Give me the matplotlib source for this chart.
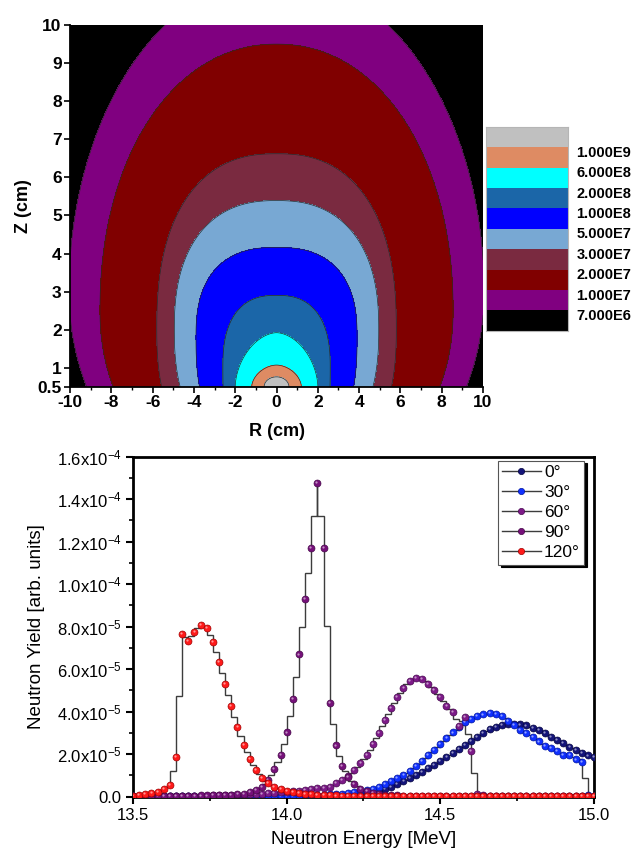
import numpy as np
import matplotlib
matplotlib.use('Agg')
import matplotlib.pyplot as plt
from matplotlib import transforms
from matplotlib.lines import Line2D

plt.rcParams['font.family'] = ['Liberation Sans', 'DejaVu Sans']
plt.rcParams['mathtext.fontset'] = 'custom'
plt.rcParams['mathtext.rm'] = 'Liberation Sans'
plt.rcParams['mathtext.it'] = 'Liberation Sans:italic'
plt.rcParams['mathtext.bf'] = 'Liberation Sans:bold'

# ---------------- flux map (top) ----------------
# legend, top to bottom
legend_labels = ['1.000E9', '6.000E8', '2.000E8', '1.000E8', '5.000E7',
                 '3.000E7', '2.000E7', '1.000E7', '7.000E6']
legend_colors = ['#c0c0c0', '#de8b63', '#00ffff', '#1b66a8', '#0000ff',
                 '#78a8d3', '#7a2a40', '#800000', '#800080', '#000000']

# iso-flux boundaries, outermost first
half_width = [10.05, 8.55, 5.8, 4.95, 3.9, 2.6, 2.0, 1.2, 0.6]   # max |R|
top_z = [11.3, 9.5, 6.62, 5.39, 4.16, 2.9, 1.92, 1.07, 0.76]      # Z at R=0
z_mid = [3.0, 2.5, 2.0, 2.0, 1.8, 1.0, 0.5, 0.5, 0.5]
z_low = [6.2, 4.9, 4.0, 3.5, 3.2, 3.0, 1.0, 1.0, 1.0]
shape_n = [2.0, 2.1, 2.4, 2.4, 2.5, 2.5, 1.8, 1.8, 2.0]
inside_colors = legend_colors[-2::-1]

# ---------------- neutron spectra (bottom) ----------------
energy = np.round(np.arange(13.5, 15.0001, 0.02), 2)

deg0 = [0.02, 0.02, 0.02, 0.02, 0.02, 0.02, 0.02, 0.02, 0.02, 0.02,
        0.02, 0.02, 0.02, 0.02, 0.02, 0.02, 0.02, 0.02, 0.02, 0.02,
        0.02, 0.02, 0.03, 0.03, 0.03, 0.03, 0.03, 0.04, 0.04, 0.04,
        0.05, 0.05, 0.06, 0.07, 0.08, 0.09, 0.10, 0.12, 0.14, 0.17,
        0.24, 0.35, 0.47, 0.60, 0.72, 0.87, 1.02, 1.18, 1.34, 1.49,
        1.68, 1.85, 2.04, 2.23, 2.43, 2.64, 2.82, 3.01, 3.17, 3.29,
        3.37, 3.42, 3.44, 3.40, 3.35, 3.24, 3.14, 2.98, 2.82, 2.67,
        2.51, 2.35, 2.20, 2.04, 1.94, 1.88]
deg30 = [0.02, 0.02, 0.02, 0.02, 0.02, 0.02, 0.02, 0.02, 0.02, 0.02,
         0.02, 0.02, 0.02, 0.02, 0.02, 0.02, 0.03, 0.03, 0.03, 0.03,
         0.03, 0.03, 0.03, 0.04, 0.04, 0.04, 0.05, 0.05, 0.06, 0.07,
         0.08, 0.09, 0.11, 0.13, 0.15, 0.18, 0.21, 0.26, 0.31, 0.38,
         0.47, 0.60, 0.72, 0.87, 1.03, 1.22, 1.44, 1.67, 1.96, 2.22,
         2.50, 2.76, 3.02, 3.28, 3.50, 3.66, 3.79, 3.87, 3.92, 3.89,
         3.78, 3.58, 3.38, 3.15, 2.98, 2.80, 2.60, 2.39, 2.28, 2.15,
         1.95, 1.96, 1.75, 1.65, 0.08, 0.03]
deg60 = [0.02, 0.02, 0.02, 0.02, 0.03, 0.03, 0.03, 0.03, 0.04, 0.04,
         0.04, 0.05, 0.05, 0.06, 0.06, 0.07, 0.08, 0.09, 0.10, 0.11,
         0.13, 0.15, 0.17, 0.19, 0.21, 0.23, 0.26, 0.29, 0.32, 0.36,
         0.40, 0.43, 0.47, 0.63, 0.79, 0.97, 1.26, 1.57, 1.96, 2.48,
         3.01, 3.61, 4.16, 4.68, 5.10, 5.46, 5.57, 5.55, 5.30, 5.02,
         4.68, 4.27, 4.00, 3.33, 3.74, 2.15, 0.12, 0.06, 0.04, 0.04,
         0.03, 0.03, 0.03, 0.03, 0.03, 0.03, 0.02, 0.02, 0.02, 0.02,
         0.02, 0.02, 0.02, 0.02, 0.02, 0.02]
deg90 = [0.02, 0.02, 0.02, 0.03, 0.03, 0.03, 0.04, 0.04, 0.04, 0.05,
         0.05, 0.06, 0.06, 0.07, 0.08, 0.09, 0.10, 0.12, 0.15, 0.22,
         0.32, 0.45, 0.79, 1.29, 1.98, 3.02, 4.58, 6.69, 9.30, 11.69,
         14.75, 11.69, 4.40, 2.41, 1.44, 0.94, 0.58, 0.38, 0.25, 0.17,
         0.12, 0.09, 0.07, 0.06, 0.05, 0.05, 0.04, 0.04, 0.04, 0.03,
         0.03, 0.03, 0.03, 0.03, 0.03, 0.03, 0.02, 0.02, 0.02, 0.02,
         0.02, 0.02, 0.02, 0.02, 0.02, 0.02, 0.02, 0.02, 0.02, 0.02,
         0.02, 0.02, 0.02, 0.02, 0.02, 0.02]
deg120 = [0.05, 0.08, 0.13, 0.19, 0.24, 0.35, 0.55, 1.88, 7.64, 7.34,
          7.76, 8.08, 7.92, 7.29, 6.35, 5.30, 4.27, 3.27, 2.43, 1.76,
          1.26, 0.87, 0.66, 0.47, 0.35, 0.28, 0.22, 0.18, 0.15, 0.12,
          0.10, 0.08, 0.07, 0.06, 0.05, 0.05, 0.04, 0.04, 0.04, 0.03,
          0.03, 0.03, 0.03, 0.03, 0.03, 0.03, 0.03, 0.03, 0.03, 0.03,
          0.03, 0.03, 0.03, 0.03, 0.03, 0.03, 0.03, 0.03, 0.03, 0.03,
          0.03, 0.03, 0.03, 0.03, 0.03, 0.03, 0.03, 0.03, 0.03, 0.03,
          0.03, 0.03, 0.03, 0.03, 0.03, 0.03]

# histograms (bins between neighbouring energies)
hist0 = [0.02, 0.02, 0.02, 0.02, 0.02, 0.02, 0.02, 0.02, 0.02, 0.02,
         0.02, 0.02, 0.02, 0.02, 0.02, 0.02, 0.02, 0.02, 0.02, 0.02,
         0.02, 0.025, 0.03, 0.03, 0.03, 0.03, 0.035, 0.04, 0.04, 0.045,
         0.05, 0.055, 0.065, 0.075, 0.085, 0.095, 0.11, 0.13, 0.155, 0.2,
         0.30, 0.41, 0.54, 0.66, 0.80, 0.95, 1.10, 1.26, 1.42, 1.58,
         1.77, 1.95, 2.14, 2.33, 2.54, 2.73, 2.92, 3.09, 3.23, 3.33,
         3.40, 3.43, 3.42, 3.38, 3.30, 3.19, 3.06, 2.90, 2.75, 2.59,
         2.43, 2.28, 2.12, 1.99, 1.91]
hist30 = [0.02, 0.02, 0.02, 0.02, 0.02, 0.02, 0.02, 0.02, 0.02, 0.02,
          0.02, 0.02, 0.02, 0.02, 0.02, 0.02, 0.03, 0.03, 0.03, 0.03,
          0.03, 0.03, 0.035, 0.04, 0.04, 0.045, 0.05, 0.055, 0.065, 0.075,
          0.085, 0.10, 0.12, 0.14, 0.165, 0.195, 0.235, 0.285, 0.345, 0.425,
          0.53, 0.66, 0.80, 0.95, 1.12, 1.33, 1.55, 1.81, 2.09, 2.36,
          2.63, 2.89, 3.15, 3.39, 3.58, 3.72, 3.83, 3.90, 3.90, 3.83,
          3.68, 3.48, 3.26, 3.06, 2.89, 2.70, 2.49, 2.33, 2.21, 2.05,
          1.95, 1.85, 1.75, 0.87, 0.0]
hist60 = [0.02, 0.02, 0.02, 0.025, 0.03, 0.03, 0.03, 0.035, 0.04, 0.04,
          0.045, 0.05, 0.055, 0.06, 0.065, 0.075, 0.085, 0.095, 0.105, 0.12,
          0.14, 0.16, 0.18, 0.20, 0.22, 0.245, 0.275, 0.305, 0.34, 0.38,
          0.415, 0.45, 0.55, 0.71, 0.88, 1.12, 1.42, 1.77, 2.22, 2.75,
          3.31, 3.89, 4.42, 4.89, 5.28, 5.52, 5.56, 5.43, 5.16, 4.85,
          4.48, 4.14, 3.67, 3.54, 2.95, 1.13, 0.0, 0.0, 0.0, 0.0,
          0.0, 0.0, 0.0, 0.0, 0.0, 0.0, 0.0, 0.0, 0.0, 0.0,
          0.0, 0.0, 0.0, 0.0, 0.0]
# 90 deg histogram has a spike to the peak at 14.10 MeV
hist90_edges = [13.50, 13.52, 13.54, 13.56, 13.58, 13.60, 13.62, 13.64, 13.66, 13.68,
                13.70, 13.72, 13.74, 13.76, 13.78, 13.80, 13.82, 13.84, 13.86, 13.88,
                13.90, 13.92, 13.94, 13.96, 13.98, 14.00, 14.02, 14.04, 14.06, 14.08,
                14.10, 14.10, 14.12, 14.14, 14.16, 14.18, 14.20, 14.22, 14.24, 14.26,
                14.28, 14.30, 14.32, 14.34, 14.36, 14.38, 14.40, 14.42, 14.44, 14.46,
                14.48, 14.50, 14.52, 14.54, 14.56, 14.58, 14.60, 14.62, 14.64, 14.66,
                14.68, 14.70, 14.72, 14.74, 14.76, 14.78, 14.80, 14.82, 14.84, 14.86,
                14.88, 14.90, 14.92, 14.94, 14.96, 14.98, 15.00]
hist90 = [0.02, 0.02, 0.025, 0.03, 0.03, 0.035, 0.04, 0.04, 0.045, 0.05,
          0.055, 0.06, 0.065, 0.075, 0.085, 0.095, 0.11, 0.135, 0.185, 0.27,
          0.385, 0.62, 1.04, 1.64, 2.50, 3.80, 5.64, 8.00, 10.50, 13.22,
          14.75, 13.22, 8.05, 3.40, 1.92, 1.19, 0.76, 0.48, 0.31, 0.21, 0.145,
          0.105, 0.08, 0.065, 0.055, 0.05, 0.045, 0.04, 0.04, 0.035, 0.03,
          0.03, 0.03, 0.03, 0.03, 0.03, 0.025, 0.02, 0.02, 0.02, 0.02,
          0.02, 0.02, 0.02, 0.02, 0.02, 0.02, 0.02, 0.02, 0.02, 0.02,
          0.02, 0.02, 0.02, 0.02, 0.02]
hist120 = [0.065, 0.105, 0.16, 0.215, 0.295, 0.45, 1.22, 4.76, 7.49, 7.55,
           7.92, 8.00, 7.60, 6.82, 5.82, 4.78, 3.77, 2.85, 2.10, 1.51,
           1.06, 0.76, 0.56, 0.41, 0.31, 0.25, 0.20, 0.165, 0.135, 0.11,
           0.09, 0.075, 0.065, 0.055, 0.05, 0.045, 0.04, 0.04, 0.035, 0.03,
           0.03, 0.03, 0.03, 0.03, 0.03, 0.03, 0.03, 0.03, 0.03, 0.03,
           0.03, 0.03, 0.03, 0.03, 0.03, 0.03, 0.03, 0.03, 0.03, 0.03,
           0.03, 0.03, 0.03, 0.03, 0.03, 0.03, 0.03, 0.03, 0.03, 0.03,
           0.03, 0.03, 0.03, 0.03, 0.03]

angles = ['0°', '30°', '60°', '90°', '120°']
series = [deg0, deg30, deg60, deg90, deg120]
hists = [(hist0, energy), (hist30, energy), (hist60, energy),
         (hist90, hist90_edges), (hist120, energy)]
ball_colors = ['#14147a', '#1030ff', '#7d1a88', '#76107a', '#ff1a1a']
ball_edges = ['#050540', '#0015a0', '#4a0a52', '#450848', '#a00000']

yticks = [0, 2e-5, 4e-5, 6e-5, 8e-5, 1e-4, 1.2e-4, 1.4e-4, 1.6e-4]
ytick_labels = ['0.0', r'2.0x10$^{-5}$', r'4.0x10$^{-5}$', r'6.0x10$^{-5}$',
                r'8.0x10$^{-5}$', r'1.0x10$^{-4}$', r'1.2x10$^{-4}$',
                r'1.4x10$^{-4}$', r'1.6x10$^{-4}$']
xticks = [13.5, 14.0, 14.5, 15.0]
xtick_labels = ['13.5', '14.0', '14.5', '15.0']

fig = plt.figure(figsize=(6.32, 8.5), dpi=100)

# ---- top panel ----
ax1 = fig.add_axes([0.1108, 0.545, 0.6535, 0.4255])
ax1.set_facecolor(legend_colors[-1])
r = np.linspace(-10, 10, 601)
z = np.linspace(0.5, 10, 401)
R, Z = np.meshgrid(r, z)
for i in range(len(half_width)):
    h = np.where(Z >= z_mid[i], top_z[i] - z_mid[i], z_low[i])
    d = (np.abs(R) / half_width[i]) ** shape_n[i] + (np.abs(Z - z_mid[i]) / h) ** shape_n[i]
    ax1.contourf(R, Z, d, levels=[0, 1], colors=[inside_colors[i]])
    ax1.contour(R, Z, d, levels=[1], colors='#2a2a2a', linewidths=0.5)
ax1.set_xlim(-10, 10)
ax1.set_ylim(0.5, 10)
ax1.set_xticks(np.arange(-10, 11, 2))
ax1.set_xticks(np.arange(-9, 10, 2), minor=True)
ax1.set_xticklabels([str(v) for v in range(-10, 11, 2)], fontweight='bold', fontsize=12.5)
ax1.set_yticks([0.5] + list(range(1, 11)))
ax1.set_yticklabels(['0.5'] + [str(v) for v in range(1, 11)], fontweight='bold', fontsize=12.5)
ax1.tick_params(which='major', direction='out', length=4, width=1.2, pad=2)
ax1.tick_params(which='minor', direction='out', length=2.5, width=1.0)
for s in ['top', 'right']:
    ax1.spines[s].set_visible(False)
for s in ['left', 'bottom']:
    ax1.spines[s].set_linewidth(1.3)
ax1.set_xlabel('R (cm)', fontsize=13, fontweight='bold')
ax1.set_ylabel('Z (cm)', fontsize=13, fontweight='bold')
ax1.xaxis.set_label_coords(0.5, -0.1)
ax1.yaxis.set_label_coords(-0.092, 0.5)

# color legend of the map
axc = fig.add_axes([0.769, 0.6109, 0.1297, 0.24])
axc.barh(np.arange(len(legend_colors)), np.ones(len(legend_colors)), height=1.0,
         color=legend_colors, edgecolor='none')
axc.set_xlim(0, 1)
axc.set_ylim(len(legend_colors) - 0.5, -0.5)
axc.set_xticks([])
axc.yaxis.tick_right()
axc.set_yticks(np.arange(1, len(legend_colors)) - 0.3)
axc.set_yticklabels(legend_labels, fontweight='bold', fontsize=10.5)
axc.tick_params(axis='y', length=0, pad=6)
for s in axc.spines.values():
    s.set_color('#b5b5b5')
    s.set_linewidth(0.8)

# ---- bottom panel ----
ax2 = fig.add_axes([0.2104, 0.0627, 0.7295, 0.4002])
for hv, ed in hists:
    ax2.stairs(np.array(hv) * 1e-5, ed, color='#3c3c3c', linewidth=1.0, zorder=2)
hl = transforms.offset_copy(ax2.transData, fig=fig, x=-0.9, y=0.9, units='dots')
for k, (vals, col, ec) in enumerate(zip(series, ball_colors, ball_edges)):
    y = np.array(vals) * 1e-5
    ax2.plot(energy, y, linestyle='none', marker='o', ms=5.0, mfc=col, mec=ec,
             mew=0.5, zorder=3 + k)
    ax2.plot(energy, y, linestyle='none', marker='o', ms=1.6, mfc='white', mec='none',
             alpha=0.55, transform=hl, zorder=3 + k)
ax2.set_xlim(13.5, 15.0)
ax2.set_ylim(0, 1.6e-4)
ax2.set_xticks(xticks)
ax2.set_xticklabels(xtick_labels, fontsize=12)
ax2.set_xticks([13.75, 14.25, 14.75], minor=True)
ax2.set_yticks(yticks)
ax2.set_yticklabels(ytick_labels, fontsize=12)
ax2.set_yticks(np.arange(1e-5, 1.6e-4, 2e-5), minor=True)
ax2.tick_params(which='major', direction='out', length=5, width=1.5, pad=3)
ax2.tick_params(which='minor', direction='out', length=3, width=1.2)
for s in ax2.spines.values():
    s.set_linewidth(2)
ax2.set_xlabel('Neutron Energy [MeV]', fontsize=13.5)
ax2.set_ylabel('Neutron Yield [arb. units]', fontsize=13.5)
ax2.xaxis.set_label_coords(0.5, -0.1)
ax2.yaxis.set_label_coords(-0.19, 0.5)

handles = [Line2D([0], [0], color='#3c3c3c', lw=1.0, marker='o', ms=4.5,
                  mfc=col, mec=ec, mew=0.5) for col, ec in zip(ball_colors, ball_edges)]
leg = ax2.legend(handles, angles, loc='upper left', bbox_to_anchor=(0.788, 0.458),
                 bbox_transform=fig.transFigure, borderaxespad=0, fontsize=12.5,
                 handlelength=2.2, handletextpad=0.2, labelspacing=0.28,
                 borderpad=0.25, fancybox=False, framealpha=1,
                 shadow={'color': 'black', 'alpha': 1})
leg.get_frame().set_edgecolor('#555555')
leg.get_frame().set_linewidth(0.8)

fig.savefig('out.png', dpi=100)
